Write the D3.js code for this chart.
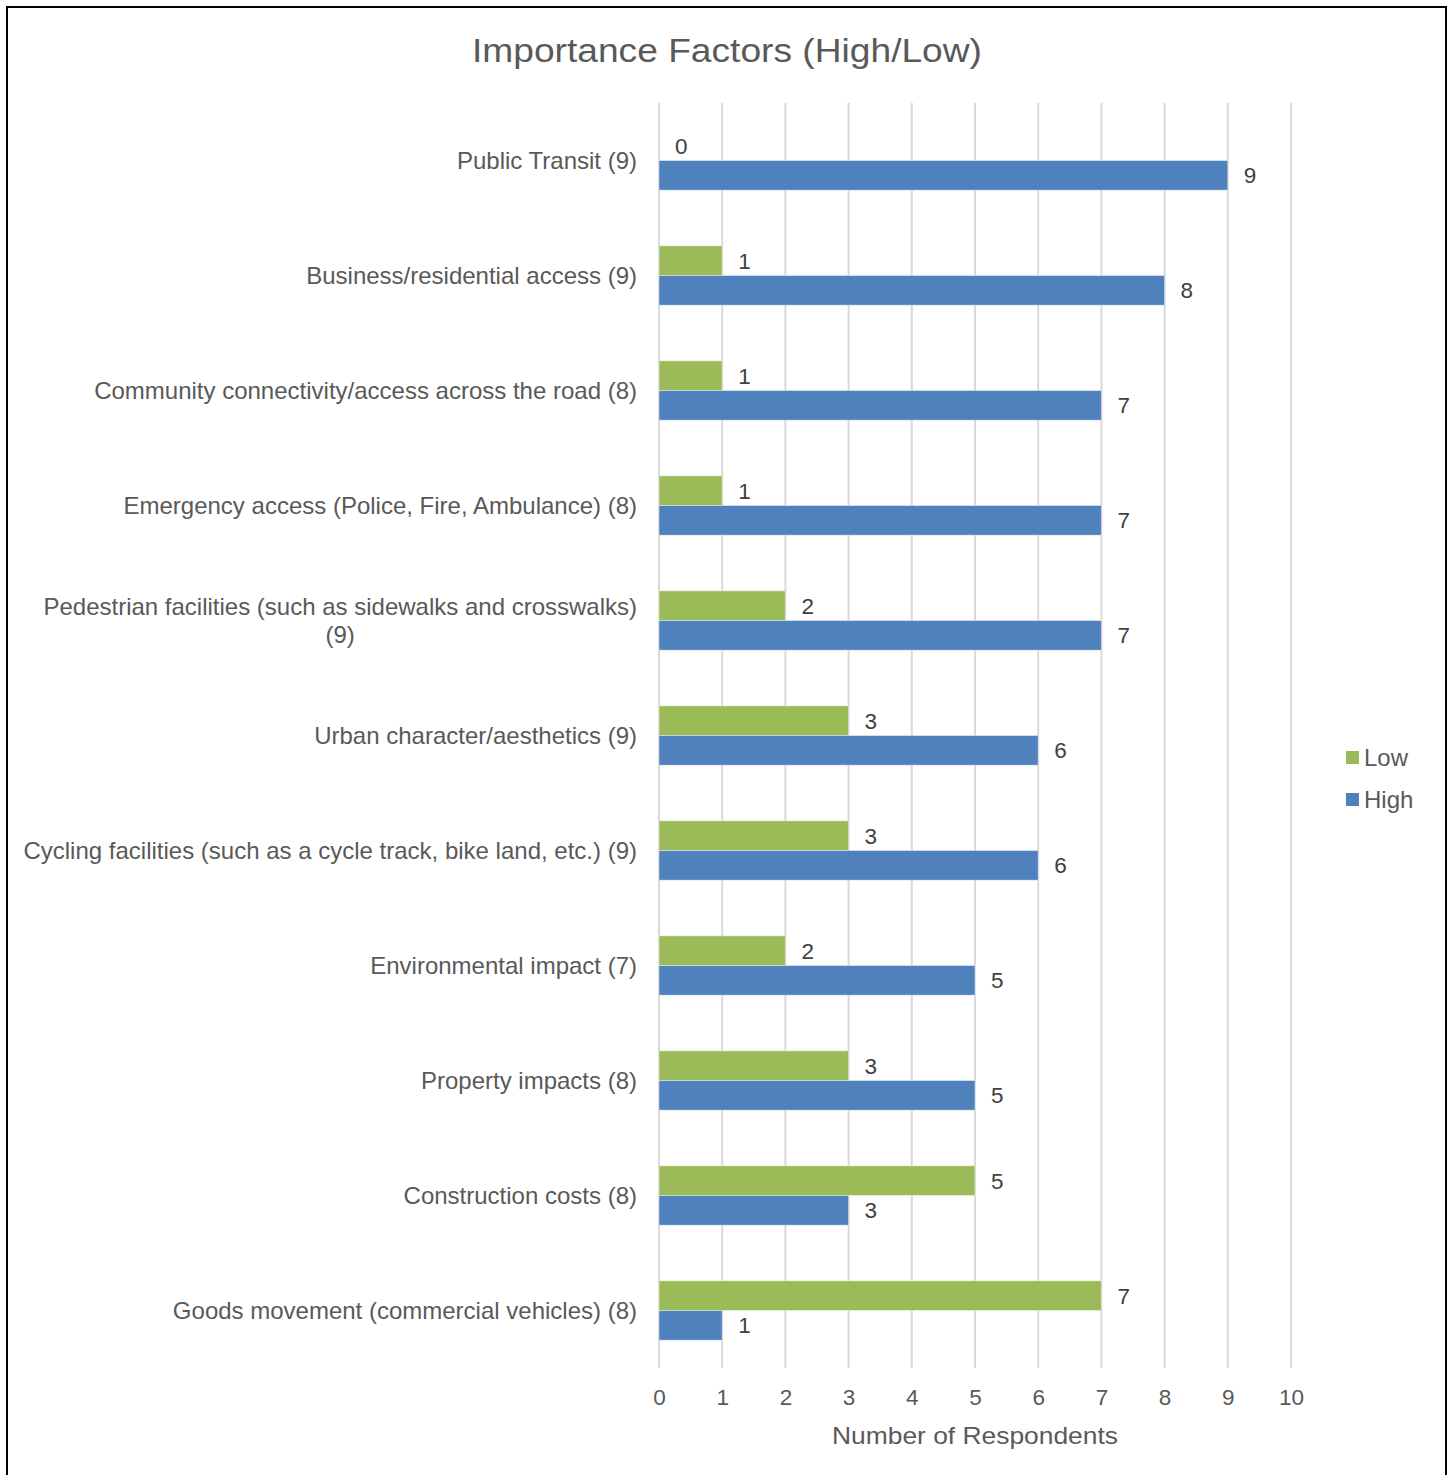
<!DOCTYPE html>
<html><head><meta charset="utf-8">
<script src="https://cdn.jsdelivr.net/npm/d3@7"></script>
<style>body{margin:0;background:#fff;} svg{display:block;font-family:"Liberation Sans",Arial,sans-serif;}</style>
</head><body>
<script>
const categories = ["Public Transit (9)","Business/residential access (9)","Community connectivity/access across the road (8)","Emergency access (Police, Fire, Ambulance) (8)","Pedestrian facilities (such as sidewalks and crosswalks)\n(9)","Urban character/aesthetics (9)","Cycling facilities (such as a cycle track, bike land, etc.) (9)","Environmental impact (7)","Property impacts (8)","Construction costs (8)","Goods movement (commercial vehicles) (8)"];
const lowValues = [0,1,1,1,2,3,3,2,3,5,7];
const highValues = [9,8,7,7,7,6,6,5,5,3,1];
const seriesNames = ["Low","High"];
const xTicks = [0,1,2,3,4,5,6,7,8,9,10];
const title = "Importance Factors (High/Low)";
const xTitle = "Number of Respondents";

const W = 1452, H = 1475;
const colors = {Low:"#9bbb59", High:"#4f81bd"};
const txt = "#595959";
const svg = d3.select("body").append("svg").attr("width",W).attr("height",H);

// border
svg.append("rect").attr("x",7).attr("y",7).attr("width",1439).attr("height",1480)
  .attr("fill","none").attr("stroke","#000").attr("stroke-width",2);

const x = d3.scaleLinear().domain([0,10]).range([659,1291]);
const y = d3.scaleBand().domain(categories).range([103,1368]);
const bh = 29.7;

// gridlines
svg.append("g").selectAll("line").data(xTicks).join("line")
  .attr("x1",d=>x(d)).attr("x2",d=>x(d)).attr("y1",103).attr("y2",1368)
  .attr("stroke","#d9d9d9").attr("stroke-width",2);

// title
svg.append("text").attr("x",727).attr("y",62).attr("text-anchor","middle")
  .attr("font-size",34).attr("fill",txt)
  .attr("textLength",510).attr("lengthAdjust","spacingAndGlyphs").text(title);

const data = categories.map((c,i)=>({c, Low:lowValues[i], High:highValues[i]}));
const g = svg.append("g");
data.forEach(d=>{
  const cy = y(d.c) + y.bandwidth()/2;
  seriesNames.forEach((s,si)=>{
    const top = si===0 ? cy - bh : cy;
    if (d[s] > 0) {
      g.append("rect").attr("x",x(0)).attr("y",top).attr("width",x(d[s])-x(0)).attr("height",bh)
        .attr("fill",colors[s]).attr("stroke","#fff").attr("stroke-opacity",0.45).attr("stroke-width",1);
    }
    g.append("text").attr("x",x(d[s])+16).attr("y",top+bh/2).attr("dy","0.36em")
      .attr("font-size",22.5).attr("fill","#404040").text(d[s]);
  });
  // category label
  const lines = d.c.split("\n");
  const n = lines.length, lh = 28;
  const t0 = svg.append("text").attr("x",637).attr("y",cy - (n-1)*lh/2).attr("dy","0.36em")
    .attr("text-anchor","end").attr("font-size",24).attr("fill",txt).text(lines[0]);
  if (n>1) {
    const w = t0.node().getComputedTextLength();
    for (let k=1;k<n;k++){
      svg.append("text").attr("x",637-w/2).attr("y",cy-(n-1)*lh/2+k*lh).attr("dy","0.36em")
        .attr("text-anchor","middle").attr("font-size",24).attr("fill",txt).text(lines[k]);
    }
  }
});

// x axis ticks
const ax = svg.append("g").attr("transform","translate(0,1368)")
  .call(d3.axisBottom(x).tickValues(xTicks).tickSize(0).tickPadding(21).tickFormat(d3.format("d")));
ax.select(".domain").remove();
ax.selectAll("text").attr("font-size",22.5).attr("fill",txt).attr("font-family","Liberation Sans, Arial, sans-serif");

svg.append("text").attr("x",975).attr("y",1444).attr("text-anchor","middle")
  .attr("font-size",24).attr("fill",txt)
  .attr("textLength",286).attr("lengthAdjust","spacingAndGlyphs").text(xTitle);

// legend
const lg = svg.append("g");
seriesNames.forEach((s,i)=>{
  const ly = 757 + i*42;
  lg.append("rect").attr("x",1346).attr("y",ly-6).attr("width",13).attr("height",13).attr("fill",colors[s]);
  lg.append("text").attr("x",1364).attr("y",ly).attr("dy","0.36em").attr("font-size",24).attr("fill",txt).text(s);
});
</script>
</body></html>
